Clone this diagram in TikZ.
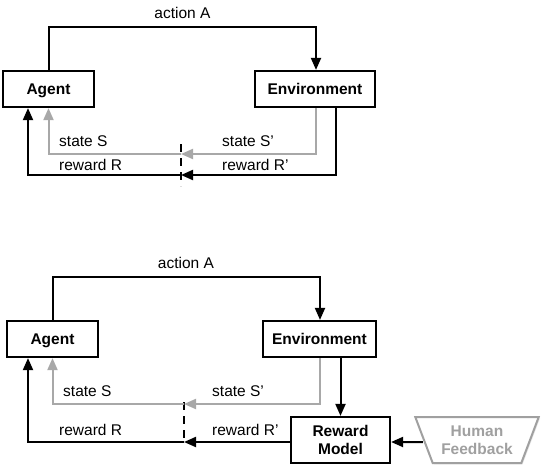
\documentclass[tikz,border=0pt]{standalone}
\usepackage{fontspec}
\setmainfont{Liberation Sans}
\usetikzlibrary{arrows.meta,shapes.geometric,shadows}
\definecolor{lgray}{RGB}{168,168,168}
\definecolor{hfgray}{RGB}{160,160,160}
\begin{document}
\begin{tikzpicture}[x=1pt,y=-1pt,
  font=\fontsize{15.5}{18}\selectfont,
  box/.style={draw, line width=2.2pt, fill=white, font=\fontsize{15.5}{18}\selectfont\bfseries,
    align=center, inner sep=0pt,
    drop shadow={shadow xshift=1.3pt, shadow yshift=-1.3pt, opacity=0.3}},
  onebox/.style={box, text height=11.1pt, text depth=0pt},
  arr/.style={line width=2pt, -{Triangle[length=12pt,width=10pt]}},
  garr/.style={arr, draw=lgray, color=lgray},
  dashline/.style={line width=1.6pt, dash pattern=on 8pt off 6pt},
  lbl/.style={anchor=base west, inner sep=0pt},
  albl/.style={anchor=base, inner sep=0pt}
]
\useasboundingbox (0,0) rectangle (544,472);

% ---------- top diagram ----------
\node[onebox, minimum width=91pt, minimum height=36pt] (ag1) at (48.5,89) {Agent};
\node[onebox, minimum width=120pt, minimum height=36pt] (env1) at (315,89) {Environment};
\coordinate (top1) at (182,27);
\coordinate (ds1) at (181,154);
\coordinate (dr1) at (181,175);
\coordinate (dt1) at (181,144);
\coordinate (db1) at (181,186);

\draw[arr] ([xshift=0.5pt]ag1.north) |- (top1) -| ([xshift=1pt]env1.north);
\draw[dashline] (dt1) -- (db1);
\draw[garr] ([xshift=1pt]env1.south) |- (ds1);
\draw[garr] (ds1) -| (ag1.south);
\draw[arr] ([xshift=21pt]env1.south) |- (dr1);
\draw[arr] (dr1) -| ([xshift=-20.5pt]ag1.south);

\node[albl] (la1) at (182.5,18) {action A};
\node[lbl] (ls1) at (59,146) {state S};
\node[lbl] (lr1) at (59,170) {reward R};
\node[lbl] (ls1p) at (222,146) {state S’};
\node[lbl] (lr1p) at (222,170) {reward R’};

% ---------- bottom diagram ----------
\node[onebox, minimum width=91pt, minimum height=36pt] (ag2) at (52.5,339) {Agent};
\node[onebox, minimum width=113pt, minimum height=36pt] (env2) at (319.5,339) {Environment};
\node[box, minimum width=99pt, minimum height=46pt] (rm) at (340.5,440) {Reward\\Model};
\node[draw=hfgray, text=hfgray, line width=2pt, fill=white,
  font=\fontsize{15.5}{18}\selectfont\bfseries, align=center, inner sep=0pt,
  trapezium, trapezium stretches=true, trapezium left angle=64, trapezium right angle=64,
  shape border rotate=180, minimum width=124pt, minimum height=46pt,
  drop shadow={shadow xshift=1.3pt, shadow yshift=-1.3pt, opacity=0.2}]
  (hf) at (477,440) {Human\\Feedback};

\coordinate (top2) at (186,277);
\coordinate (ds2) at (184,404);
\coordinate (dr2) at (184,442);
\coordinate (dt2) at (184,402);
\coordinate (db2) at (184,442);

\draw[arr] (ag2.north) |- (top2) -| ([xshift=0.5pt]env2.north);
\draw[dashline] (dt2) -- (db2);
\draw[garr] ([xshift=0.5pt]env2.south) |- (ds2);
\draw[garr] (ds2) -| (ag2.south);
\draw[arr] (env2.south -| rm.north) -- (rm.north);
\draw[arr] ([yshift=-2pt]rm.west) -- (dr2);
\draw[arr] (dr2) -| ([xshift=-24.5pt]ag2.south);
\draw[arr] ([yshift=-2pt]hf.west) -- ([yshift=-2pt]rm.east);

\node[albl] (la2) at (186,268) {action A};
\node[lbl] (ls2) at (63,396) {state S};
\node[lbl] (lr2) at (59,435) {reward R};
\node[lbl] (ls2p) at (212,396) {state S’};
\node[lbl] (lr2p) at (212,435) {reward R’};
\end{tikzpicture}
\end{document}
